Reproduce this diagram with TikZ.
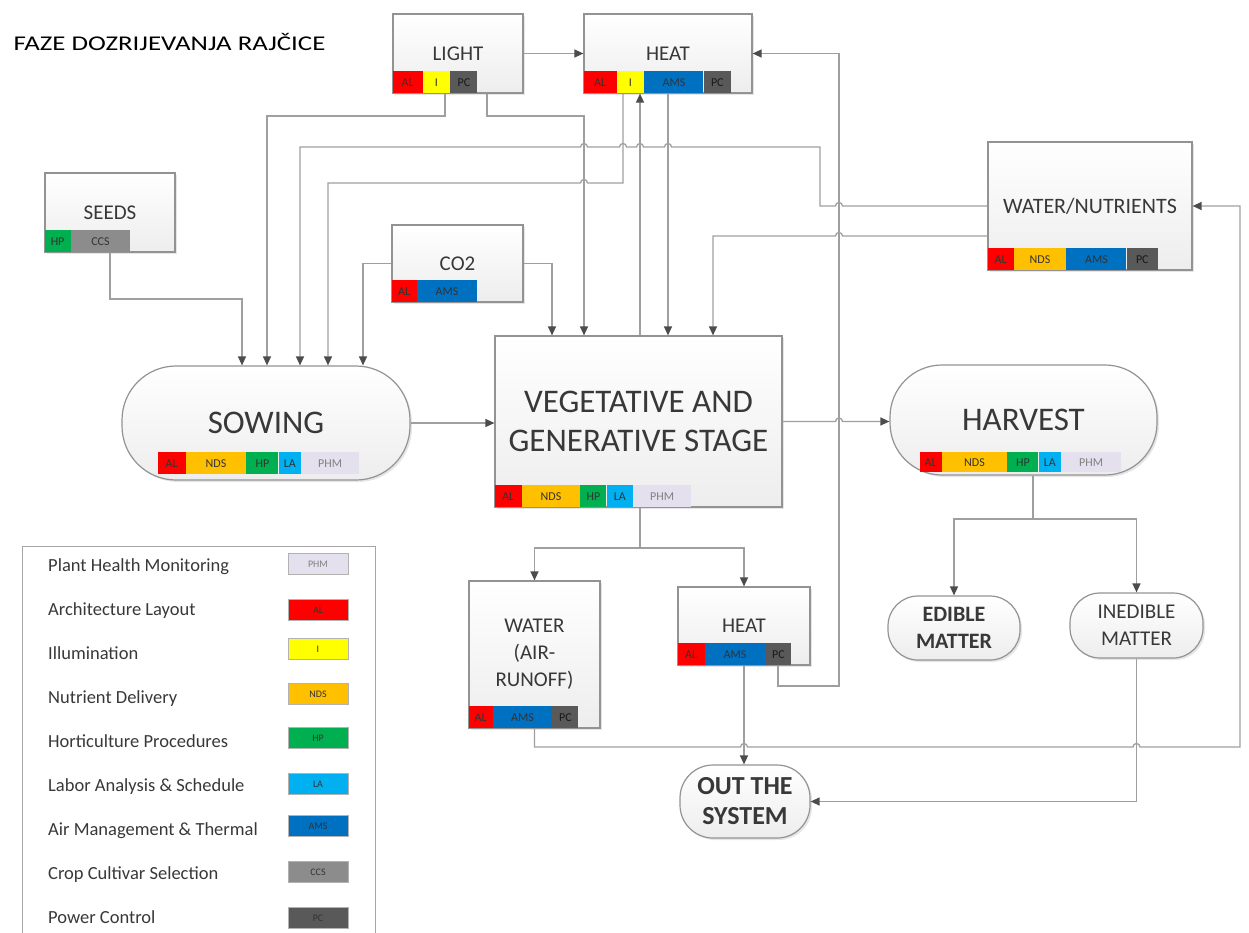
\documentclass[tikz,border=0pt]{standalone}
\usepackage{fontspec}
\setmainfont{Carlito}
\usetikzlibrary{positioning}
\usetikzlibrary{arrows.meta}
\usetikzlibrary{shadows}

\definecolor{alred}{HTML}{FF0000}
\definecolor{iyellow}{HTML}{FFFF00}
\definecolor{ndsorange}{HTML}{FFC000}
\definecolor{hpgreen}{HTML}{00B050}
\definecolor{lablue}{HTML}{00B0F0}
\definecolor{amsblue}{HTML}{0070C0}
\definecolor{ccsgray}{HTML}{8C8C8C}
\definecolor{pcgray}{HTML}{595959}
\definecolor{phmlav}{HTML}{E4E0EE}

\begin{document}
\begin{tikzpicture}[x=1pt, y=-1pt,
                >={Triangle[length=9pt, width=8pt, color=black!70]},
                boxnode/.style={rectangle, draw=gray!85, line width=1.2pt, top color=white, bottom color=gray!14, drop shadow={opacity=0.2, shadow xshift=2pt, shadow yshift=-2pt}, text=black!78, align=center, inner sep=0pt, font=\fontsize{21}{27}\selectfont},
                pillnode/.style={boxnode, rounded corners=30pt},
                bignode/.style={font=\fontsize{33}{39}\selectfont},
                link/.style={draw=gray!75, line width=1.3pt},
                tag/.style={rectangle, inner sep=0pt, minimum height=22pt, font=\fontsize{12}{12}\selectfont, text=black!80},
                tag_al/.style={tag, fill=alred, minimum width=27pt},
                tag_i/.style={tag, fill=iyellow, minimum width=27pt},
                tag_nds/.style={tag, fill=ndsorange, minimum width=58pt},
                tag_hp/.style={tag, fill=hpgreen, minimum width=28pt},
                tag_la/.style={tag, fill=lablue, minimum width=24pt},
                tag_ams/.style={tag, fill=amsblue, minimum width=59pt},
                tag_ccs/.style={tag, fill=ccsgray, minimum width=59pt},
                tag_pc/.style={tag, fill=pcgray, minimum width=27pt, text=black!90},
                tag_phm/.style={tag, fill=phmlav, minimum width=58pt, text=gray},
                legtext/.style={anchor=base west, inner sep=0pt, text=black!78, font=\fontsize{18.5}{18.5}\selectfont},
                legswatch/.style={rectangle, draw=gray!60, line width=0.8pt, minimum width=60pt, minimum height=21pt, inner sep=0pt, font=\fontsize{10}{10}\selectfont, text=black!80},
            ]
            \useasboundingbox (0,0) rectangle (1249,932);

            % Title
            \node[anchor=west, xscale=1.28, font=\fontsize{21}{21}\selectfont] (title) at (9,42) {FAZE DOZRIJEVANJA RAJČICE};

            % Nodes
            \node[boxnode, minimum width=130pt, minimum height=79pt] (light) at (458,53.5) {LIGHT};
            \node[boxnode, minimum width=168pt, minimum height=79pt] (heat_top) at (668,53.5) {HEAT};
            \node[boxnode, minimum width=130pt, minimum height=79pt] (seeds) at (110,212.5) {SEEDS};
            \node[boxnode, minimum width=131pt, minimum height=77pt] (co2) at (457.5,263.5) {CO2};
            \node[boxnode, minimum width=204pt, minimum height=128pt, font=\fontsize{22}{27}\selectfont] (water_nut) at (1090,206) {WATER/NUTRIENTS};
            \node[pillnode, bignode, rounded corners=54pt, minimum width=288pt, minimum height=114pt] (sowing) at (266,423) {SOWING};
            \node[boxnode, bignode, minimum width=287pt, minimum height=171pt] (veg) at (638.5,421.5) {VEGETATIVE AND\\GENERATIVE STAGE};
            \node[pillnode, bignode, rounded corners=52pt, minimum width=267pt, minimum height=110pt] (harvest) at (1023.5,420) {HARVEST};
            \node[boxnode, minimum width=131pt, minimum height=147pt] (water_run) at (534.5,654.5) {WATER\\(AIR-\\RUNOFF)};
            \node[boxnode, minimum width=132pt, minimum height=78pt] (heat_bot) at (744,626) {HEAT};
            \node[pillnode, minimum width=132pt, minimum height=64pt, font=\bfseries\fontsize{22}{27}\selectfont] (edible) at (954,628) {EDIBLE\\MATTER};
            \node[pillnode, minimum width=133pt, minimum height=65pt] (inedible) at (1136.5,625.5) {INEDIBLE\\MATTER};
            \node[pillnode, rounded corners=33pt, minimum width=130pt, minimum height=73pt, font=\bfseries\fontsize{26}{30}\selectfont] (out_sys) at (745,801.5) {OUT THE\\SYSTEM};

            % Tags
            \node[tag_al, minimum width=30pt, anchor=south west] (light_al) at (light.south west) {AL};
            \node[tag_i, right=0pt of light_al] (light_i) {I};
            \node[tag_pc, right=0pt of light_i] (light_pc) {PC};

            \node[tag_al, minimum width=33pt, anchor=south west] (heat_top_al) at (heat_top.south west) {AL};
            \node[tag_i, right=0pt of heat_top_al] (heat_top_i) {I};
            \node[tag_ams, right=0pt of heat_top_i] (heat_top_ams) {AMS};
            \node[tag_pc, right=0pt of heat_top_ams] (heat_top_pc) {PC};

            \node[tag_hp, minimum width=26pt, anchor=south west] (seeds_hp) at (seeds.south west) {HP};
            \node[tag_ccs, right=0pt of seeds_hp] (seeds_ccs) {CCS};

            \node[tag_al, minimum width=25pt, anchor=south west] (co2_al) at (co2.south west) {AL};
            \node[tag_ams, minimum width=60pt, right=0pt of co2_al] (co2_ams) {AMS};

            \node[tag_al, minimum width=26pt, anchor=south west] (water_nut_al) at (water_nut.south west) {AL};
            \node[tag_nds, minimum width=52pt, right=0pt of water_nut_al] (water_nut_nds) {NDS};
            \node[tag_ams, minimum width=60pt, right=0pt of water_nut_nds] (water_nut_ams) {AMS};
            \node[tag_pc, minimum width=31pt, right=0pt of water_nut_ams] (water_nut_pc) {PC};

            \node[tag_al, minimum width=28pt, anchor=south west] (sowing_al) at ([xshift=36pt, yshift=6pt]sowing.south west) {AL};
            \node[tag_nds, minimum width=60pt, right=0pt of sowing_al] (sowing_nds) {NDS};
            \node[tag_hp, minimum width=32pt, right=0pt of sowing_nds] (sowing_hp) {HP};
            \node[tag_la, minimum width=22pt, right=0pt of sowing_hp] (sowing_la) {LA};
            \node[tag_phm, right=0pt of sowing_la] (sowing_phm) {PHM};

            \node[tag_al, anchor=south west] (veg_al) at (veg.south west) {AL};
            \node[tag_nds, right=0pt of veg_al] (veg_nds) {NDS};
            \node[tag_hp, minimum width=26pt, right=0pt of veg_nds] (veg_hp) {HP};
            \node[tag_la, minimum width=26pt, right=0pt of veg_hp] (veg_la) {LA};
            \node[tag_phm, right=0pt of veg_la] (veg_phm) {PHM};

            \node[tag_al, minimum width=22pt, minimum height=20pt, anchor=south west] (harvest_al) at ([xshift=30pt, yshift=3pt]harvest.south west) {AL};
            \node[tag_nds, minimum width=65pt, minimum height=20pt, right=0pt of harvest_al] (harvest_nds) {NDS};
            \node[tag_hp, minimum width=31pt, minimum height=20pt, right=0pt of harvest_nds] (harvest_hp) {HP};
            \node[tag_la, minimum width=22pt, minimum height=20pt, right=0pt of harvest_hp] (harvest_la) {LA};
            \node[tag_phm, minimum width=60pt, minimum height=20pt, right=0pt of harvest_la] (harvest_phm) {PHM};

            \node[tag_al, minimum width=24pt, anchor=south west] (water_run_al) at (water_run.south west) {AL};
            \node[tag_ams, right=0pt of water_run_al] (water_run_ams) {AMS};
            \node[tag_pc, minimum width=26pt, right=0pt of water_run_ams] (water_run_pc) {PC};

            \node[tag_al, anchor=south west] (heat_bot_al) at (heat_bot.south west) {AL};
            \node[tag_ams, minimum width=60pt, right=0pt of heat_bot_al] (heat_bot_ams) {AMS};
            \node[tag_pc, minimum width=26pt, right=0pt of heat_bot_ams] (heat_bot_pc) {PC};

            % Legend
            \node[draw=gray!70, line width=1.2pt, minimum width=353pt, minimum height=400pt, anchor=north west] (legend) at (22,546) {};
            \node[legtext] (leg_phm_txt) at (48,571) {Plant Health Monitoring};
            \node[legswatch, fill=phmlav, text=gray] (leg_phm) at (318,564) {PHM};
            \node[legtext] (leg_al_txt) at (48,615) {Architecture Layout};
            \node[legswatch, fill=alred] (leg_al) at (318,610) {AL};
            \node[legtext] (leg_i_txt) at (48,659) {Illumination};
            \node[legswatch, fill=iyellow] (leg_i) at (318,649) {I};
            \node[legtext] (leg_nds_txt) at (48,703) {Nutrient Delivery};
            \node[legswatch, fill=ndsorange] (leg_nds) at (318,694) {NDS};
            \node[legtext] (leg_hp_txt) at (48,747) {Horticulture Procedures};
            \node[legswatch, fill=hpgreen] (leg_hp) at (318,738) {HP};
            \node[legtext] (leg_la_txt) at (48,791) {Labor Analysis \& Schedule};
            \node[legswatch, fill=lablue] (leg_la) at (318,784) {LA};
            \node[legtext] (leg_ams_txt) at (48,835) {Air Management \& Thermal};
            \node[legswatch, fill=amsblue] (leg_ams) at (318,826) {AMS};
            \node[legtext] (leg_ccs_txt) at (48,879) {Crop Cultivar Selection};
            \node[legswatch, fill=ccsgray] (leg_ccs) at (318,872) {CCS};
            \node[legtext] (leg_pc_txt) at (48,923) {Power Control};
            \node[legswatch, fill=pcgray] (leg_pc) at (318,918) {PC};

            %Lines
            \draw[link,->] (light.east) -- (heat_top.west);
            \draw[link,->] (445,0 |- light.south) |- (267,116) -- (267,0 |- sowing.north);
            \draw[link,->] (487,0 |- light.south) |- (584,116) -- (584,0 |- veg.north);

            \draw[link,->] (water_nut.west) -- (842.5,206) arc[start angle=0, end angle=180, radius=3.5pt] -- (820,206) -- (820,147)
                -- (671.5,147) arc[start angle=0, end angle=180, radius=3.5pt]
                -- (643.5,147) arc[start angle=0, end angle=180, radius=3.5pt]
                -- (626.5,147) arc[start angle=0, end angle=180, radius=3.5pt]
                -- (587.5,147) arc[start angle=0, end angle=180, radius=3.5pt]
                -- (300,147) -- (300,0 |- sowing.north);
            \draw[link,->] (623,0 |- heat_top.south) -- (623,183) -- (587.5,183) arc[start angle=0, end angle=180, radius=3.5pt] -- (328,183) -- (328,0 |- sowing.north);
            \draw[link,->] (640,0 |- veg.north) -- (640,0 |- heat_top.south);
            \draw[link,->] (668,0 |- heat_top.south) -- (668,0 |- veg.north);

            \draw[link,->] (co2.east) -| (552,0 |- veg.north);
            \draw[link,->] (co2.west) -| (363,0 |- sowing.north);
            \draw[link,->] (110,0 |- seeds.south) |- (242,299) -- (242,0 |- sowing.north);

            \draw[link,->] (water_nut.west |- 0,236) -- (842.5,236) arc[start angle=0, end angle=180, radius=3.5pt] -- (713,236) -- (713,0 |- veg.north);
            \draw[link,->] (778,0 |- heat_bot.south) |- (839,686) -- (839,53.5) -- (heat_top.east);

            \draw[link,->] (sowing.east) -- (veg.west |- sowing.east);
            \draw[link,->] (veg.east) -- (835.5,421.5) arc[start angle=180, end angle=0, radius=3.5pt] -- (harvest.west |- veg.east);

            \draw[link,->] (640,0 |- veg.south) -- (640,548) -| (water_run.north);
            \draw[link,->] (640,0 |- veg.south) -- (640,548) -| (heat_bot.north);
            \draw[link,->] (1033,0 |- harvest.south) -- (1033,519) -| (edible.north);
            \draw[link,->] (1033,0 |- harvest.south) -- (1033,519) -| (inedible.north);

            \draw[link,->] (heat_bot.south) -- (heat_bot.south |- out_sys.north);
            \draw[link,->] (inedible.south) |- (out_sys.east);
            \draw[link,->] (water_run.south) -- (534.5,747)
                -- (740.5,747) arc[start angle=180, end angle=0, radius=3.5pt]
                -- (1133,747) arc[start angle=180, end angle=0, radius=3.5pt]
                -- (1240,747) -- (1240,206) -- (water_nut.east);
        \end{tikzpicture}
\end{document}
